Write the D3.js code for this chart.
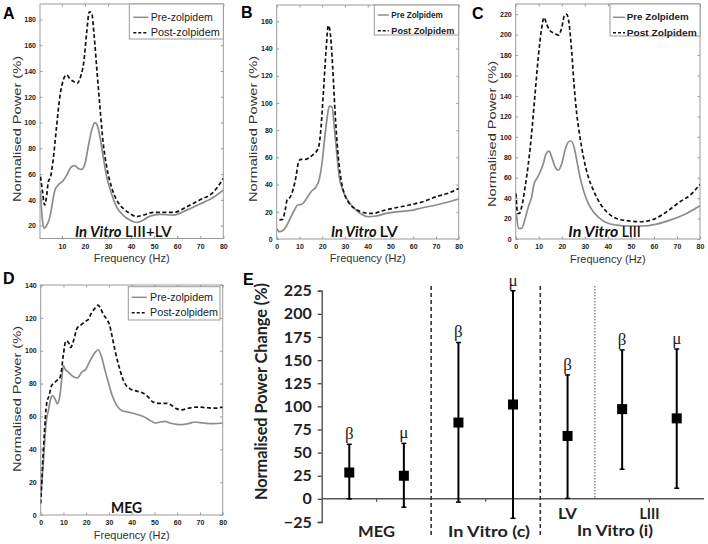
<!DOCTYPE html>
<html><head><meta charset="utf-8">
<script src="https://cdn.jsdelivr.net/npm/d3@7"></script>
<style>body{margin:0;background:#fff}svg{display:block}</style>
</head><body>
<svg id="fig" width="708" height="544"></svg>
<script>
// ---------- DATA ----------
const aPreF  = [0.7,1.5,2.2,3,4.8,7,8.4,10.6,12,14.2,15.6,17.1,18.5,20,21.4,22.9,24.3,25.3,26.5,27.9,29.4,31.5,33.7,36.6,39.5,42.4,45.3,48.2,52.5,58.3,64.1,69.9,75.7,80];
const aPreV  = [47,25,18,19,27,47.6,51.5,55,59,65.7,66.5,64.4,63.6,68,81,94,100,98,89,73.5,58,45,34.6,28,24.3,22.4,24.3,27.4,28.7,28.2,32,36.7,42,47.6];
const aPostF = [0.7,1.5,2.5,3.3,4.1,5.1,6.2,7.7,9.1,10.6,12,13.5,14.9,16.6,18.1,19.5,20.7,21.9,22.9,24,25.3,26.5,27.9,29.4,31.5,33.7,36.6,39.5,42.4,45.3,49.6,58.3,64.1,69.9,75.7,80];
const aPostV = [58,47.6,36,42,54,58,71,97,120,133,137,134,132,130.4,135.6,147,169,186,185,167,138,112,84,66,50,40,33.3,29.4,27,28.2,30.2,30.2,34.6,40,46,56.6];

const bPreF  = [0,1.2,2.6,4.1,5.6,7.8,9.2,10.7,12.2,13.6,15.1,17.3,18.8,19.9,21,22,23.1,24.3,25.3,26.4,27.5,29,31.2,33.4,36.3,40,43.7,48.1,52.5,58.3,64.2,70,75.9,80];
const bPreV  = [7.8,5.4,6.1,9,14,21.3,25,25.4,27.4,31,34.7,38.4,44.5,55.5,72.7,87,97.6,97,82.4,63,45.7,36,28.6,23.7,19.3,16.4,16.9,18.8,20,20.8,23,25,27.4,29.4];
const bPostF = [1.2,2.6,3.8,4.6,6,7.3,8.5,9.5,10.5,12.5,14.5,16,17.3,18.5,19.5,20.5,21.7,22.7,23.4,24.6,25.6,26.8,28.3,29.7,31.9,34.9,38.5,42.2,46.6,51,58.3,64.2,70,75.9,80];
const bPostV = [14,14.4,22,29,31,37,46,56,58.5,58.5,60,62,64,68,82.4,107,138.7,157,153.4,126.5,94.7,65.3,43.3,33.5,26.2,21.8,19.3,18.8,20.8,22.5,25,27.4,31,34,37.2];

const cPreF  = [0.3,1.2,2.6,4.1,5.5,6.9,8,9.1,10.6,12,13.2,14.5,15.6,17.1,18.5,20,21.4,22.9,24,25.3,26.5,27.9,29.4,31.5,33.7,36.6,39.5,43.8,49.6,55.4,61.2,67,72.8,80];
const cPreV  = [25,10.4,10.4,20,31.5,41,54,59,65.6,73.8,83.5,86,80.3,70.5,67.3,73.8,86.8,95,95.9,90,77,60.8,47.8,34.8,26.6,20,15.9,13.6,12.7,12.7,14.6,18.5,23.4,32.5];
const cPostF = [0.1,0.9,1.6,2.6,4.1,5.5,6.9,8.4,9.8,11.3,12.3,13.5,14.9,17.1,18.5,20,21.1,22.1,23.1,24.3,25.3,26.5,27.9,29.4,31.5,33.7,36.6,39.5,43.8,48.2,54,59.7,65.5,71.3,75.7,80];
const cPostV = [44.5,25,25,31.5,51,73.8,103,142,177.8,207,216.8,210,203.8,201,199.5,207,218.4,220,212,184,151.8,122.5,99.8,80.3,60.8,47.8,34.8,26.6,20,17.9,16.9,19.2,26.6,36.4,42.9,53.3];

const dPreF  = [0,0.7,1.5,2.3,3.4,4.4,5.3,6.3,7.3,8.2,9.2,10,10.7,12.2,14.4,16.1,18,19.9,21.7,23.9,25.3,26.8,28.3,29.7,31.2,33.4,35.6,38.5,41.5,45.1,48.1,50.3,52.5,54.7,56.8,59.8,62,64.9,67.8,71.5,75.9,80];
const dPreV  = [11,23,39,55.5,63.6,70.7,72.7,70.7,67.7,70.7,81.8,90.9,88.9,86.9,84.2,83.4,86.9,88.9,93.9,99,100.6,96,87.9,80.8,73.7,66.7,63.6,62.6,61.6,60,57.6,56,56.6,57,56,55.2,55,55.6,56.6,56,55.6,56];
const dPostF = [0,0.7,1.6,2.6,3.7,4.8,5.9,7,8.2,8.9,10,11.1,12.2,13.2,14.4,16.1,18,19.5,21,22.4,23.9,25.1,26.1,27.5,29,30.2,31.2,32.7,34.1,35.6,37.1,39.3,42.2,45.1,47.3,49.5,52.5,55.4,57.6,59.8,62,64.9,68.6,73,76.6,80];
const dPostV = [7,27,49.5,67.7,72.7,78.8,80.2,81.8,82.8,85.9,98,106,105,102,106,114,116,117.8,119.2,123.2,125.9,127.7,126.3,122.2,119.2,116,110,100,92,84.8,79.8,76.8,75.4,74.1,71.7,68.7,68,68,66.7,64.6,64,65,65.7,65.3,65,65.7];

const xTicks = [0,10,20,30,40,50,60,70,80];
const yTicksA = [20,40,60,80,100,120,140,160,180];
const yTicksB = [0,20,40,60,80,100,120,140,160];
const yTicksC = [0,20,40,60,80,100,120,140,160,180,200,220];
const yTicksD = [0,20,40,60,80,100,120,140];

const legendDash = ["Pre-zolpidem","Post-zolpidem"];
const legendZol  = ["Pre Zolpidem","Post Zolpidem"];

// Panel E
const eCats   = ["MEG-b","MEG-m","c-b","c-m","LV-b","LIII-b","LIII-m"];
const eGreek  = ["β","μ","β","μ","β","β","μ"];
const eMean   = [28.5,25,82.5,102,68,97,87];
const eLow    = [0,-9,-3.5,-21,0.5,32,11.5];
const eHigh   = [59,60,169,225,134,161,162];
const eYTicks = [-25,0,25,50,75,100,125,150,175,200,225];

// ---------- DRAW ----------
const svg = d3.select("#fig");
svg.append("rect").attr("width",708).attr("height",544).attr("fill","#fff");
const AX = "#9a9a9a";
const FA = "Liberation Sans, Arial";
const FE = "Lato, Open Sans, sans-serif";

function panel(o){
  const g = svg.append("g");
  const x = d3.scaleLinear().domain(o.xd).range([o.l,o.r]);
  const y = d3.scaleLinear().domain(o.yd).range([o.b,o.t]);
  g.append("rect").attr("x",o.l).attr("y",o.t).attr("width",o.r-o.l).attr("height",o.b-o.t)
    .attr("fill","none").attr("stroke",AX).attr("stroke-width",1);
  const xt = o.xt.filter(v=>v>=o.xd[0]);
  const axg = g.append("g").attr("transform",`translate(0,${o.b})`)
    .call(d3.axisBottom(x).tickValues(xt).tickSize(-2.5).tickPadding(4).tickFormat(d3.format("d")));
  const axt = g.append("g").attr("transform",`translate(0,${o.t})`).call(d3.axisTop(x).tickValues(xt).tickSize(-2.5).tickFormat(""));
  const ayg = g.append("g").attr("transform",`translate(${o.l},0)`)
    .call(d3.axisLeft(y).tickValues(o.yt).tickSize(-2.5).tickPadding(4).tickFormat(d3.format("d")));
  const ayr = g.append("g").attr("transform",`translate(${o.r},0)`).call(d3.axisRight(y).tickValues(o.yt).tickSize(-2.5).tickFormat(""));
  [axg,axt,ayg,ayr].forEach(s=>{
    s.select(".domain").remove();
    s.selectAll(".tick line").attr("stroke",AX);
    s.selectAll("text").attr("font-family",FA).attr("font-size",7).attr("font-weight","bold").attr("fill","#222");
  });
  axg.selectAll("text").attr("dy","0.9em");
  const line = d3.line().x(d=>x(d[0])).y(d=>y(d[1])).curve(d3.curveMonotoneX);
  const clip = "clip"+o.id;
  svg.append("clipPath").attr("id",clip).append("rect").attr("x",o.l).attr("y",o.t).attr("width",o.r-o.l).attr("height",o.b-o.t);
  const cg = g.append("g").attr("clip-path",`url(#${clip})`);
  cg.append("path").datum(d3.zip(o.preF,o.preV)).attr("d",line).attr("fill","none").attr("stroke","#8c8c8c").attr("stroke-width",1.7);
  cg.append("path").datum(d3.zip(o.postF,o.postV)).attr("d",line).attr("fill","none").attr("stroke","#111").attr("stroke-width",1.7).attr("stroke-dasharray","4,2.5");
  // annotation (two parts)
  o.an.forEach(p=>{
    g.append("text").attr("x",p.x).attr("y",p.y).text(p.t)
      .attr("font-family",FE).attr("font-size",16).attr("fill","#111")
      .attr("font-style",p.it?"italic":"normal").attr("font-weight",p.it?"bold":(p.b||600))
      .attr("textLength",p.w).attr("lengthAdjust","spacingAndGlyphs");
  });
  // legend
  const L = o.leg;
  g.append("rect").attr("x",L.x).attr("y",L.y).attr("width",L.w).attr("height",L.h).attr("fill","#fff").attr("stroke",AX);
  L.labels.forEach((t,i)=>{
    const yy = L.y + L.r0 + i*L.dr;
    g.append("line").attr("x1",L.x+L.lx0).attr("x2",L.x+L.lx1).attr("y1",yy).attr("y2",yy)
      .attr("stroke", i?"#111":"#8c8c8c").attr("stroke-width",1.5).attr("stroke-dasharray", i?"3,2":null);
    g.append("text").attr("x",L.x+L.tx).attr("y",yy).attr("dy","0.35em").text(t)
      .attr("textLength",L.tw[i]).attr("lengthAdjust","spacingAndGlyphs")
      .attr("font-family",FA).attr("font-size",L.fs).attr("font-weight",L.bold?"bold":"normal").attr("fill","#222");
  });
  g.append("text").attr("x",(o.l+o.r)/2).attr("y",o.xlY).attr("text-anchor","middle").text("Frequency (Hz)")
    .attr("font-family",FA).attr("font-size",11).attr("fill","#333");
  g.append("text").attr("transform",`translate(${o.ylX},${o.ylY}) rotate(-90)`).attr("text-anchor","middle").attr("dy","0.35em")
    .attr("textLength",146).attr("lengthAdjust","spacingAndGlyphs")
    .text("Normalised Power (%)").attr("font-family",FA).attr("font-size",11).attr("fill","#333");
  svg.append("text").attr("x",o.lt.x).attr("y",o.lt.y).text(o.lt.t).attr("font-family",FA)
    .attr("font-weight","bold").attr("font-size",16).attr("fill","#000");
}

panel({id:"A",l:40,r:223.3,t:4,b:238.5,xd:[0.5,80],yd:[10,192],xt:xTicks,yt:yTicksA,
  preF:aPreF,preV:aPreV,postF:aPostF,postV:aPostV,
  leg:{x:129.3,y:4,w:94,h:35,r0:13.3,dr:15.4,lx0:4,lx1:19,tx:21.5,fs:10,bold:false,labels:legendDash,tw:[62,69]},
  xlY:262,ylX:16.7,ylY:129,
  an:[{x:75,y:237,w:46.5,t:"In Vitro",it:true},{x:125,y:237,w:46.5,t:"LIII+LV"}],lt:{x:3,y:18.5,t:"A"}});
panel({id:"B",l:276.7,r:458.7,t:5,b:239,xd:[0,80],yd:[0,172],xt:xTicks,yt:yTicksB,
  preF:bPreF,preV:bPreV,postF:bPostF,postV:bPostV,
  leg:{x:374.3,y:5,w:84.4,h:30,r0:10,dr:15.7,lx0:3.5,lx1:14.5,tx:17,fs:8.2,bold:true,labels:legendZol,tw:[51.5,63]},
  xlY:262,ylX:252.7,ylY:129,
  an:[{x:331,y:237,w:45.5,t:"In Vitro",it:true},{x:379.5,y:237,w:18.5,t:"LV"}],lt:{x:241,y:18,t:"B"}});
panel({id:"C",l:515.7,r:700,t:4,b:239,xd:[0,80],yd:[0,230],xt:xTicks,yt:yTicksC,
  preF:cPreF,preV:cPreV,postF:cPostF,postV:cPostV,
  leg:{x:610,y:4,w:90,h:32,r0:13.3,dr:15.4,lx0:3,lx1:15,tx:16.7,fs:8.2,bold:true,labels:legendZol,tw:[62,70]},
  xlY:262.5,ylX:491.7,ylY:134,
  an:[{x:568.3,y:237,w:50,t:"In Vitro",it:true},{x:621.7,y:237,w:19,t:"LIII"}],lt:{x:472,y:18.5,t:"C"}});
panel({id:"D",l:40.7,r:222.7,t:285,b:515,xd:[0,80],yd:[0,140],xt:xTicks,yt:yTicksD,
  preF:dPreF,preV:dPreV,postF:dPostF,postV:dPostV,
  leg:{x:128.3,y:286.7,w:91.7,h:33.3,r0:10.6,dr:15.4,lx0:3.4,lx1:18.4,tx:21.7,fs:10,bold:false,labels:legendDash,tw:[63,68]},
  xlY:539,ylX:16.7,ylY:399,
  an:[{x:111,y:512.7,w:31,t:"MEG",b:"bold"}],lt:{x:3,y:284,t:"D"}});

// ---------- PANEL E ----------
const eg = svg.append("g");
const ex = d3.scaleBand().domain(eCats).range([322,704]).padding(0);
const ey = d3.scaleLinear().domain([-25,225]).range([522,290.7]);
const ecx = c => ex(c)+ex.bandwidth()/2;

const yax = eg.append("g").attr("transform","translate(321.7,0)")
  .call(d3.axisLeft(ey).tickValues(eYTicks).tickSize(4).tickPadding(6).tickFormat(d3.format("d")));
yax.select(".domain").attr("stroke","#444").attr("stroke-width",1.3);
yax.selectAll(".tick line").attr("stroke","#444").attr("stroke-width",1.3);
yax.selectAll("text").attr("font-family",FE).attr("font-weight","bold").attr("font-size",16).attr("fill","#222");

eg.append("line").attr("x1",321.7).attr("x2",704).attr("y1",ey(0)).attr("y2",ey(0)).attr("stroke","#555").attr("stroke-width",1.5);
const zt = [[0,1],[2,3],[5,6]].map(p=>(ecx(eCats[p[0]])+ecx(eCats[p[1]]))/2);
zt.forEach(xx=>eg.append("line").attr("x1",xx).attr("x2",xx).attr("y1",ey(0)).attr("y2",ey(0)+3).attr("stroke","#555").attr("stroke-width",1.2));

const divs = [[1,"dash",537],[3,"dash",537],[4,"dot",ey(0)]];
divs.forEach(([i,k,yb])=>{
  const xx = ex(eCats[i])+ex.bandwidth();
  eg.append("line").attr("x1",xx).attr("x2",xx).attr("y1",286).attr("y2",yb)
    .attr("stroke",k==="dash"?"#333":"#777").attr("stroke-width",k==="dash"?1.6:1.2)
    .attr("stroke-dasharray",k==="dash"?"4,3":"1.5,1.5");
});

eCats.forEach((c,i)=>{
  const xx = ecx(c);
  eg.append("line").attr("x1",xx).attr("x2",xx).attr("y1",ey(eLow[i])).attr("y2",ey(eHigh[i])).attr("stroke","#000").attr("stroke-width",2);
  [eLow[i],eHigh[i]].forEach(v=>eg.append("line").attr("x1",xx-2.5).attr("x2",xx+2.5).attr("y1",ey(v)).attr("y2",ey(v)).attr("stroke","#000").attr("stroke-width",1.5));
  eg.append("rect").attr("x",xx-5).attr("y",ey(eMean[i])-5).attr("width",10).attr("height",10).attr("fill","#000");
  eg.append("text").attr("x",xx).attr("y",ey(eHigh[i])-11).attr("dy","0.35em").attr("text-anchor","middle")
    .attr("font-family","Liberation Serif, DejaVu Serif, serif").attr("font-size",17).attr("fill","#222").text(eGreek[i]);
});

const lab = (t,x,y,w)=>eg.append("text").attr("x",x).attr("y",y).attr("text-anchor","middle").attr("font-family",FE)
  .attr("font-weight","bold").attr("font-size",16).attr("fill","#222").attr("textLength",w).attr("lengthAdjust","spacingAndGlyphs").text(t);
lab("MEG",(ecx(eCats[0])+ecx(eCats[1]))/2,537,37);
lab("In Vitro (c)",489,537,82);
lab("LV",ecx(eCats[4]),518.5,19);
lab("LIII",(ecx(eCats[5])+ecx(eCats[6]))/2,518.5,20);
lab("In Vitro (i)",615,536,76);

eg.append("text").attr("transform","translate(261,391.5) rotate(-90)").attr("text-anchor","middle").attr("dy","0.35em")
  .attr("font-family",FE).attr("font-weight","bold").attr("font-size",17).attr("fill","#222")
  .attr("textLength",217).attr("lengthAdjust","spacingAndGlyphs").text("Normalised Power Change (%)");
svg.append("text").attr("x",243).attr("y",285).text("E").attr("font-family",FA)
  .attr("font-weight","bold").attr("font-size",16).attr("fill","#000");
</script>
</body></html>
